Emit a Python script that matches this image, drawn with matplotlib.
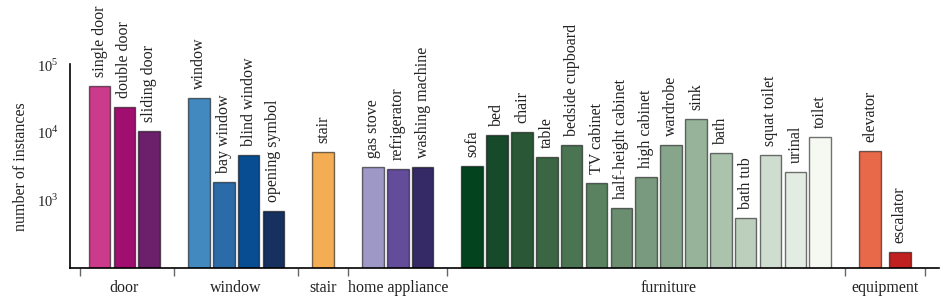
import numpy as np
import matplotlib.pyplot as plt

plt.rcParams['font.family'] = ['Liberation Serif', 'DejaVu Serif']
plt.rcParams['mathtext.fontset'] = 'custom'
plt.rcParams['mathtext.rm'] = 'Liberation Serif'

# groups of categories and their instance counts
groups = ['door', 'window', 'stair', 'home appliance', 'furniture', 'equipment']
categories = [
    ['single door', 'double door', 'sliding door'],
    ['window', 'bay window', 'blind window', 'opening symbol'],
    ['stair'],
    ['gas stove', 'refrigerator', 'washing machine'],
    ['sofa', 'bed', 'chair', 'table', 'bedside cupboard', 'TV cabinet',
     'half-height cabinet', 'high cabinet', 'wardrobe', 'sink', 'bath',
     'bath tub', 'squat toilet', 'urinal', 'toilet'],
    ['elevator', 'escalator'],
]
counts = [
    [48000, 23500, 10600],
    [32000, 1850, 4700, 700],
    [5200],
    [3050, 2850, 3100],
    [3200, 9100, 10000, 4350, 6500, 1770, 760, 2200, 6500, 15900, 4900,
     540, 4600, 2570, 8600],
    [5250, 172],
]
colors = [
    ['#cc3a8c', '#a00f70', '#6c1f6b'],
    ['#4189be', '#2b6ba8', '#084c92', '#16315f'],
    ['#f4ad52'],
    ['#9d98c6', '#634c9a', '#352a66'],
    ['#03441f', '#164a2a', '#2a5836', '#3b6644', '#4b7453', '#5a8261',
     '#6a8e6f', '#799a7e', '#86a58a', '#97b49a', '#abc2ad', '#bccfbd',
     '#cfddd0', '#e2ece2', '#f5f9f2'],
    ['#e8694a', '#c0201f'],
]

# bar positions: one empty slot between groups
xs, centers, bounds = [], [], [-0.8]
pos = 0
for gi, cats in enumerate(categories):
    gx = list(np.arange(pos, pos + len(cats), dtype=float))
    if groups[gi] == 'equipment':
        gx[1] += 0.2
    xs.append(gx)
    centers.append((gx[0] + gx[-1]) / 2)
    pos += len(cats) + 1
    bounds.append(pos - 1 if gi < len(categories) - 1 else gx[-1] + 1)
centers[4] += 0.9  # furniture label sits right of the middle

fig = plt.figure(figsize=(9.52, 2.99), dpi=100)
ax = fig.add_axes([0.0735, 0.1037, 0.9128, 0.6806])

for gx, vals, cols, cats in zip(xs, counts, colors, categories):
    ax.bar(gx, vals, width=0.87, bottom=0, color=cols,
           edgecolor=(0, 0, 0, 0.55), linewidth=1.0)
    for x, v, c in zip(gx, vals, cats):
        ax.annotate(c, (x, v), xytext=(0, 6.5), textcoords='offset points',
                    rotation=90, ha='center', va='bottom', fontsize=11.5,
                    color='#222222')

ax.set_yscale('log')
ax.set_ylim(100, 1e5)
ax.set_xlim(-1.19, 33.78)
ax.set_yticks([1e3, 1e4, 1e5])
ax.set_yticklabels([r'$10^3$', r'$10^4$', r'$10^5$'])
ax.yaxis.set_minor_locator(plt.NullLocator())
ax.tick_params(axis='y', length=0, labelsize=10.5, labelcolor='#222222', pad=8)
ax.set_ylabel('number of instances', fontsize=11.5, color='#222222', labelpad=6)

ax.set_xticks(bounds)
ax.set_xticklabels([])
ax.tick_params(axis='x', which='major', length=6, width=1.0, color='#666666',
               direction='out')
ax.set_xticks(centers, groups, minor=True)
ax.tick_params(axis='x', which='minor', length=0, pad=9, labelsize=11.5,
               labelcolor='#222222')

for s in ['top', 'right']:
    ax.spines[s].set_visible(False)
for s in ['left', 'bottom']:
    ax.spines[s].set_linewidth(1.2)
    ax.spines[s].set_color('black')

fig.savefig('out.png', dpi=100)
